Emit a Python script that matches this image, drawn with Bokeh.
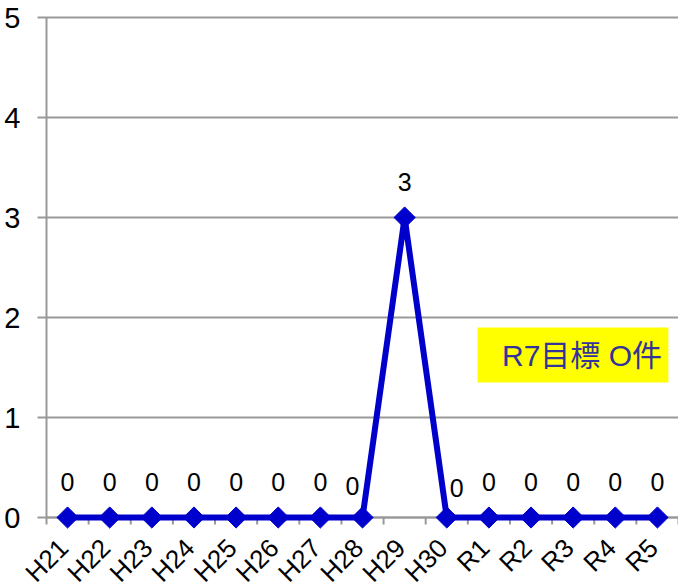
import math
from bokeh.plotting import figure
from bokeh.models import (Range1d, ColumnDataSource, LabelSet, Label,
                          BoxAnnotation)
from bokeh.core.properties import value
from bokeh.embed import file_html
from bokeh.resources import INLINE

categories = ["H21", "H22", "H23", "H24", "H25", "H26", "H27", "H28",
              "H29", "H30", "R1", "R2", "R3", "R4", "R5"]
values = [0, 0, 0, 0, 0, 0, 0, 0, 3, 0, 0, 0, 0, 0, 0]
y_ticks = [0, 1, 2, 3, 4, 5]
y_tick_labels = ["0", "1", "2", "3", "4", "5"]
target_text = "R7目標 O件"

n = len(categories)
xs = list(range(n))
x_lo, x_hi = -0.5, n - 0.5          # category band edges
px_per_cat = 632 / n                 # plotting band width / categories
left_pad = 46 / px_per_cat           # room for the y labels, in category units

# label offsets (style): Excel-style auto placement near the spike
dx = [0] * n
dy = [36] * n
dx[7] = -10; dy[7] = 32
dx[9] = 10; dy[9] = 30

src = ColumnDataSource(dict(x=xs, y=values, txt=[str(v) for v in values],
                            dx=dx, dy=dy))
cat_src = ColumnDataSource(dict(x=xs, y=[0] * n, name=categories))
bounds = [i - 0.5 for i in range(n + 1)]
xtick_src = ColumnDataSource(dict(x=bounds, y0=[0] * len(bounds),
                                  y1=[-0.07] * len(bounds)))
tick_out = 9 / px_per_cat
grid_src = ColumnDataSource(dict(x0=[x_lo - tick_out] * len(y_ticks),
                                 x1=[x_hi] * len(y_ticks), y=y_ticks,
                                 xl=[x_lo] * len(y_ticks), lab=y_tick_labels))

# the frame fills the whole canvas; axes, grid and labels are drawn in it
p = figure(width=678, height=582, output_backend="svg", toolbar_location=None,
           x_range=Range1d(x_lo - left_pad, x_hi), y_range=Range1d(-0.65, 5.17),
           min_border_top=0, min_border_right=0, min_border_left=0,
           min_border_bottom=0)
p.outline_line_color = None
p.background_fill_color = "white"
p.border_fill_color = "white"
p.xaxis.visible = False
p.yaxis.visible = False
p.xgrid.visible = False
p.ygrid.visible = False

# horizontal gridlines with their outward y ticks
p.segment(x0="x0", y0="y", x1="x1", y1="y", source=grid_src,
          line_color="#999999", line_width=2)
# y axis line
p.segment(x0=[x_lo], y0=[y_ticks[0]], x1=[x_lo], y1=[y_ticks[-1]],
          line_color="#999999", line_width=2)
p.add_layout(LabelSet(x="xl", y="y", text="lab", source=grid_src,
                      x_offset=-26, y_offset=0, text_align="right",
                      text_baseline="middle",
                      text_font=value("Liberation Sans"),
                      text_font_size=value("29px"), text_color="black"))

# x axis at y = 0 with ticks at the category boundaries
p.segment(x0=[x_lo], y0=[0], x1=[x_hi], y1=[0], line_color="#999999",
          line_width=2)
p.segment(x0="x", y0="y0", x1="x", y1="y1", source=xtick_src,
          line_color="#999999", line_width=2)
p.add_layout(LabelSet(x="x", y="y", text="name", source=cat_src,
                      angle=math.pi / 4, x_offset=-4, y_offset=-26,
                      text_align="right", text_baseline="middle",
                      text_font=value("Liberation Sans"),
                      text_font_size=value("26px"), text_color="black"))

p.line("x", "y", source=src, line_color="#0000CC", line_width=6)
p.scatter("x", "y", source=src, marker="square", angle=math.pi / 4, size=15,
          fill_color="#0000CC", line_color="#0000CC")

p.add_layout(LabelSet(x="x", y="y", text="txt", source=src, x_offset="dx",
                      y_offset="dy", text_align="center", text_baseline="middle",
                      text_font=value("Liberation Sans"),
                      text_font_size=value("25px"), text_color="black"))

box = BoxAnnotation(left=9.73, right=14.26, bottom=1.35, top=1.9,
                    fill_color="#FFFF00", fill_alpha=1, line_color=None,
                    level="underlay")
p.add_layout(box)
p.add_layout(Label(x=12.21, y=1.62, text=target_text, text_align="center",
                   text_baseline="middle",
                   text_font="Liberation Sans, Noto Sans CJK JP",
                   text_font_size="30px", text_color="#333399"))

open("out.html", "w").write(file_html(p, INLINE))
